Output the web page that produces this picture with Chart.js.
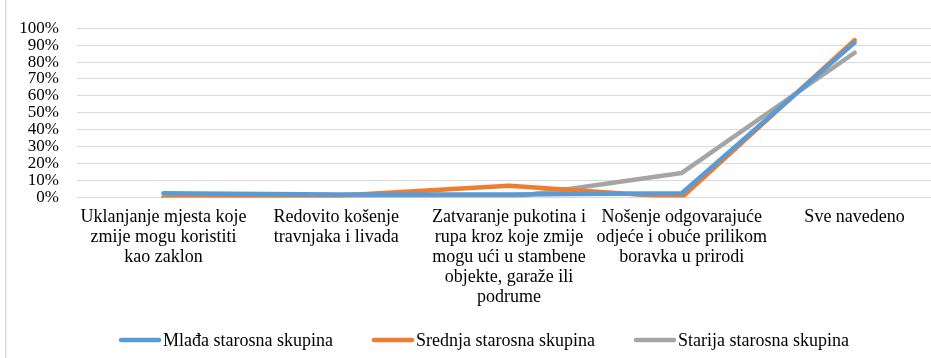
<!DOCTYPE html>
<html>
<head>
<meta charset="utf-8">
<script src="https://cdn.jsdelivr.net/npm/chart.js@4/dist/chart.umd.min.js"></script>
<style>
  html, body { margin: 0; padding: 0; background: #ffffff; overflow: hidden; }
  #wrap { width: 941px; height: 358px; }
</style>
</head>
<body>
<div id="wrap"><canvas id="chart" width="941" height="358"></canvas></div>
<script>
// Mjere zaštite od zmija po starosnim skupinama (udio ispitanika, %)
const categories = [
  ["Uklanjanje mjesta koje", "zmije mogu koristiti", "kao zaklon"],
  ["Redovito košenje", "travnjaka i livada"],
  ["Zatvaranje pukotina i", "rupa kroz koje zmije", "mogu ući u stambene", "objekte, garaže ili", "podrume"],
  ["Nošenje odgovarajuće", "odjeće i obuće prilikom", "boravka u prirodi"],
  ["Sve navedeno"]
];
const seriesNames = ["Mlađa starosna skupina", "Srednja starosna skupina", "Starija starosna skupina"];
const mladja  = [2.5, 1.8, 1.8, 2.5, 91.5];
const srednja = [0, 1, 7, 0, 93];
const starija = [0, 0, 0, 14.5, 85.5];
const yTicks = [0, 10, 20, 30, 40, 50, 60, 70, 80, 90, 100];

const colors = ["#5B9BD5", "#ED7D31", "#A5A5A5"];
const serif = "'Liberation Serif'";
Chart.defaults.font.family = serif;

function lineSet(label, data, color) {
  return {
    label: label,
    data: data,
    borderColor: color,
    backgroundColor: color,
    borderWidth: 4.5,
    borderCapStyle: 'round',
    borderJoinStyle: 'round',
    pointRadius: 0,
    pointHoverRadius: 0,
    tension: 0,
    fill: false
  };
}

// Tanka siva ivica okvira grafikona s lijeve strane
const frameEdge = {
  id: 'frameEdge',
  beforeDraw(chart) {
    const ctx = chart.ctx;
    ctx.save();
    ctx.fillStyle = '#dcdcdc';
    ctx.fillRect(5, 0, 1.5, chart.height);
    ctx.restore();
  }
};

// Legenda ispod grafikona: kratka linija u boji serije i naziv odmah uz nju
const lineLegend = {
  id: 'lineLegend',
  afterDraw(chart) {
    const ctx = chart.ctx;
    const symbolW = 42, textGap = 2, itemGap = 39, y = 340, centerX = 484;
    ctx.save();
    ctx.font = '18px ' + serif;
    ctx.textBaseline = 'middle';
    ctx.textAlign = 'left';
    const items = chart.data.datasets.map(ds => ({
      text: ds.label, color: ds.borderColor, w: ctx.measureText(ds.label).width
    }));
    const total = items.reduce((s, it) => s + symbolW + textGap + it.w, 0) + itemGap * (items.length - 1);
    let x = centerX - total / 2;
    items.forEach(it => {
      ctx.strokeStyle = it.color;
      ctx.lineWidth = 4.5;
      ctx.lineCap = 'round';
      ctx.beginPath();
      ctx.moveTo(x + 2, y);
      ctx.lineTo(x + symbolW - 2, y);
      ctx.stroke();
      ctx.fillStyle = '#000000';
      ctx.fillText(it.text, x + symbolW + textGap, y + 1);
      x += symbolW + textGap + it.w + itemGap;
    });
    ctx.restore();
  }
};

new Chart(document.getElementById('chart'), {
  type: 'line',
  data: {
    labels: categories,
    datasets: [
      lineSet(seriesNames[0], mladja, colors[0]),
      lineSet(seriesNames[1], srednja, colors[1]),
      lineSet(seriesNames[2], starija, colors[2])
    ]
  },
  options: {
    responsive: false,
    animation: false,
    layout: { padding: { top: 14, right: 0, bottom: 19.5, left: 0 } },
    plugins: {
      legend: { display: false },
      tooltip: { enabled: false }
    },
    scales: {
      x: {
        offset: true,
        grid: { display: false, drawTicks: false },
        border: { display: false },
        ticks: {
          autoSkip: false,
          maxRotation: 0,
          minRotation: 0,
          padding: 10,
          color: '#000000',
          font: { family: serif, size: 18, lineHeight: 1.11 }
        },
        afterFit(scale) { scale.height = 141; }
      },
      y: {
        min: 0,
        max: 100,
        afterBuildTicks(scale) { scale.ticks = yTicks.map(v => ({ value: v })); },
        grid: { color: '#d9d9d9', lineWidth: 1, drawTicks: false },
        border: { display: false },
        ticks: {
          autoSkip: false,
          padding: 18,
          color: '#000000',
          font: { family: serif, size: 17 },
          callback: v => v + '%'
        },
        afterFit(scale) { scale.width = 77; }
      }
    }
  },
  plugins: [frameEdge, lineLegend]
});
</script>
</body>
</html>
